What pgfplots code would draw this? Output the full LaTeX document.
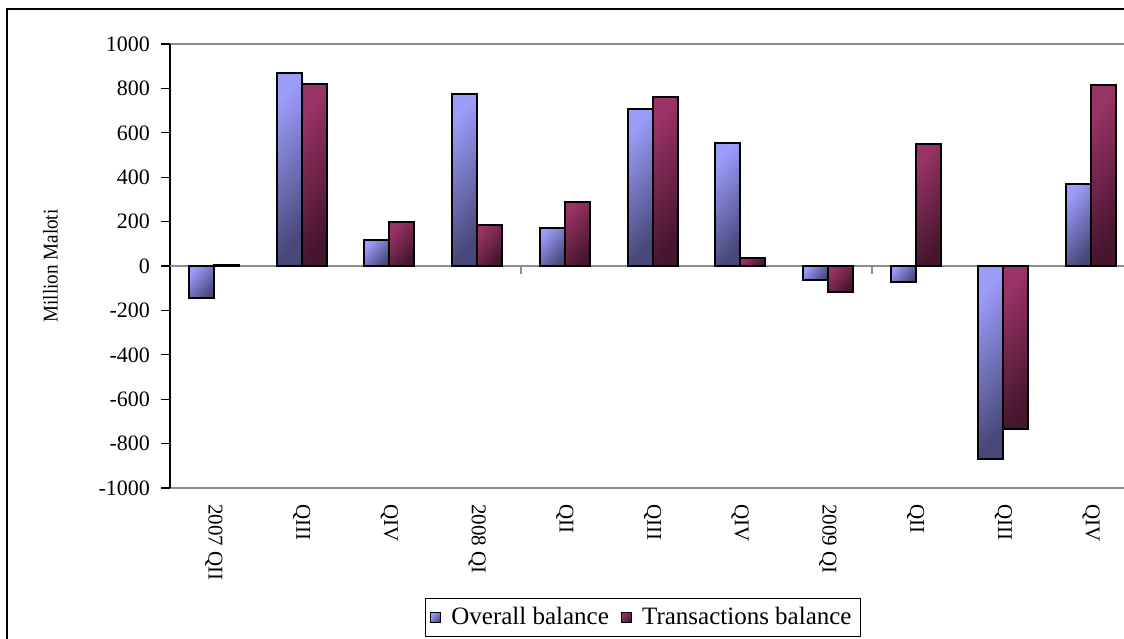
\documentclass[border=0pt]{standalone}
\usepackage{pgfplots}
\pgfplotsset{compat=1.18}
\usepackage{fontspec}
\setmainfont{Liberation Serif}
\definecolor{ovlight}{HTML}{9C9CFA}
\definecolor{ovdark}{HTML}{48487A}
\definecolor{trlight}{HTML}{9A3366}
\definecolor{trdark}{HTML}{45162E}
\pgfplotsset{
  ovstyle/.style={draw=black, line width=1pt, top color=ovlight, bottom color=ovdark, shading angle=50},
  trstyle/.style={draw=black, line width=1pt, top color=trlight, bottom color=trdark, shading angle=50},
}
\newcommand{\ovbar}[2]{\addplot[ovstyle, bar shift=-6.25pt, forget plot] coordinates {(#1,#2)};}
\newcommand{\trbar}[2]{\addplot[trstyle, bar shift=6.25pt, forget plot] coordinates {(#1,#2)};}
\begin{document}
\begin{tikzpicture}
\path[use as bounding box] (0pt,0pt) rectangle (562pt,-319pt);
\begin{scope}
\clip (0pt,0pt) rectangle (562pt,-319pt);
\draw[black, line width=0.7pt] (3.5pt,-4.5pt) rectangle (600pt,-340pt);
\begin{axis}[
  at={(85pt,-244pt)}, anchor=south west,
  scale only axis, width=482.5pt, height=222pt,
  xmin=-0.5, xmax=10.5, ymin=-1000, ymax=1000,
  ytick={-1000,-800,-600,-400,-200,0,200,400,600,800,1000},
  xtick={0,1,2,3,4,5,6,7,8,9,10},
  xticklabels={2007 QII,QIII,QIV,2008 QI,QII,QIII,QIV,2009 QI,QII,QIII,QIV},
  xtick pos=lower, ytick pos=left,
  x tick style={draw=none},
  y tick style={black, line width=0.6pt},
  tick align=outside, major tick length=4.5pt,
  /pgf/number format/assume math mode=true,
  /pgf/number format/1000 sep={},
  yticklabel style={font=\fontsize{11}{12}\selectfont, xshift=-2pt},
  xticklabel style={font=\fontsize{10.5}{11}\selectfont, rotate=-90, anchor=west, xshift=0pt, yshift=0pt},
  separate axis lines,
  every outer x axis line/.append style={gray!90, line width=0.8pt},
  every outer y axis line/.append style={black, line width=0.7pt},
  extra y ticks={0}, extra y tick labels={},
  extra y tick style={ymajorgrids=true, major grid style={gray!90, line width=0.9pt}, major tick length=4.5pt},
  ylabel={\fontsize{10.5}{11}\selectfont\scalebox{0.91}[1]{Million Maloti}},
  every axis y label/.style={at={(axis description cs:-0.124,0.5)}, rotate=90, anchor=center},
  ybar, bar width=12.5pt,
  legend columns=2,
  legend style={at={(0.490,-0.2917)}, anchor=center, draw=black, line width=0.6pt,
    font=\fontsize{12.5}{14}\selectfont, inner sep=2.5pt,
    /tikz/every odd column/.append style={column sep=3pt},
    /tikz/every even column/.append style={column sep=4pt}},
  legend image code/.code={\draw[#1, line width=0.6pt] (0pt,-2.5pt) rectangle (5pt,2.5pt);},
]
% Overall balance
\ovbar{0}{-144}
\ovbar{1}{870}
\ovbar{2}{117}
\ovbar{3}{775}
\ovbar{4}{171}
\ovbar{5}{707}
\ovbar{6}{554}
\ovbar{7}{-63}
\ovbar{8}{-72}
\ovbar{9}{-869}
\ovbar{10}{369}
% Transactions balance
\trbar{0}{5}
\trbar{1}{820}
\trbar{2}{198}
\trbar{3}{185}
\trbar{4}{288}
\trbar{5}{761}
\trbar{6}{36}
\trbar{7}{-117}
\trbar{8}{549}
\trbar{9}{-734}
\trbar{10}{815}
\addlegendimage{ovstyle}
\addlegendentry{Overall balance}
\addlegendimage{trstyle}
\addlegendentry{Transactions balance}
\draw[gray!90, line width=0.8pt] (axis cs:3.5,0) -- ++(0pt,-4pt);
\draw[gray!90, line width=0.8pt] (axis cs:7.5,0) -- ++(0pt,-4pt);
\end{axis}
\end{scope}
\end{tikzpicture}
\end{document}
